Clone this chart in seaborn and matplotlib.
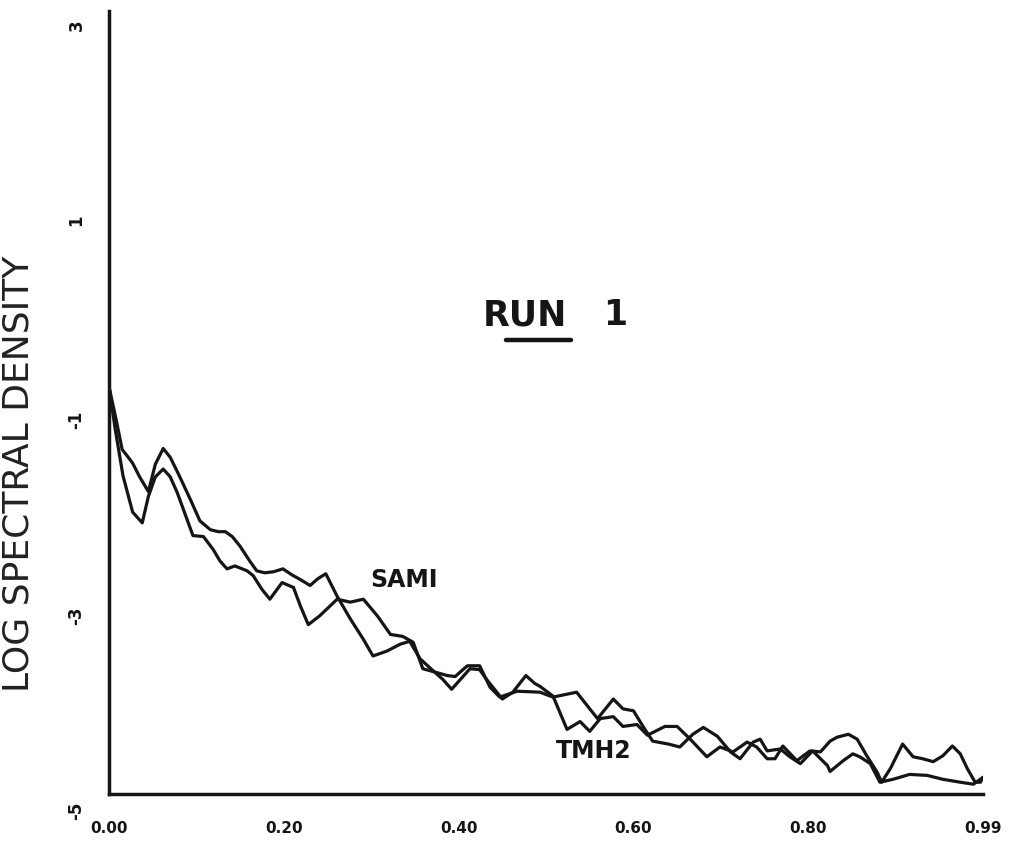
import numpy as np
import pandas as pd
import matplotlib
matplotlib.use("Agg")
import matplotlib.pyplot as plt
import matplotlib.transforms as mtransforms
import seaborn as sns

# Log spectral density curves (frequency as fraction of Nyquist)
tmh2_freq = [0.000, 0.008, 0.015, 0.022, 0.027, 0.035, 0.045, 0.053, 0.062, 0.070,
             0.081, 0.093, 0.104, 0.116, 0.125, 0.133, 0.141, 0.150, 0.161, 0.169,
             0.178, 0.188, 0.199, 0.209, 0.219, 0.230, 0.239, 0.248, 0.261, 0.276,
             0.291, 0.302, 0.318, 0.333, 0.344, 0.356, 0.367, 0.382, 0.392, 0.402,
             0.413, 0.424, 0.432, 0.450, 0.462, 0.477, 0.487, 0.493, 0.508, 0.524,
             0.539, 0.550, 0.562, 0.577, 0.588, 0.604, 0.616, 0.636, 0.650, 0.665,
             0.684, 0.699, 0.714, 0.730, 0.741, 0.753, 0.762, 0.771, 0.787, 0.802,
             0.814, 0.825, 0.833, 0.846, 0.856, 0.867, 0.879, 0.884, 0.894, 0.908,
             0.920, 0.931, 0.943, 0.954, 0.965, 0.974, 0.982, 0.991, 0.997, 1.000]
tmh2_lsd = [-0.84, -1.17, -1.48, -1.56, -1.62, -1.76, -1.91, -1.63, -1.47, -1.56,
            -1.76, -1.99, -2.21, -2.30, -2.32, -2.32, -2.37, -2.47, -2.62, -2.72,
            -2.74, -2.73, -2.70, -2.76, -2.81, -2.87, -2.80, -2.75, -2.98, -3.21,
            -3.42, -3.59, -3.54, -3.47, -3.44, -3.62, -3.71, -3.83, -3.93, -3.83,
            -3.72, -3.73, -3.83, -4.03, -3.96, -3.79, -3.87, -3.90, -4.00, -4.34,
            -4.26, -4.36, -4.23, -4.21, -4.31, -4.29, -4.40, -4.31, -4.31, -4.44,
            -4.62, -4.52, -4.57, -4.47, -4.52, -4.64, -4.64, -4.51, -4.66, -4.56,
            -4.57, -4.46, -4.42, -4.39, -4.44, -4.61, -4.78, -4.88, -4.74, -4.49,
            -4.62, -4.64, -4.67, -4.61, -4.51, -4.59, -4.74, -4.88, -4.88, -4.83]

sami_freq = [0.000, 0.007, 0.016, 0.027, 0.038, 0.045, 0.053, 0.062, 0.070, 0.078,
             0.087, 0.096, 0.108, 0.119, 0.127, 0.135, 0.144, 0.158, 0.165, 0.175,
             0.184, 0.198, 0.211, 0.219, 0.228, 0.241, 0.261, 0.276, 0.291, 0.307,
             0.322, 0.336, 0.348, 0.359, 0.371, 0.387, 0.396, 0.410, 0.424, 0.436,
             0.447, 0.467, 0.493, 0.508, 0.535, 0.550, 0.559, 0.577, 0.588, 0.600,
             0.611, 0.622, 0.640, 0.653, 0.668, 0.680, 0.696, 0.711, 0.722, 0.737,
             0.745, 0.753, 0.768, 0.779, 0.791, 0.805, 0.822, 0.825, 0.840, 0.851,
             0.859, 0.871, 0.882, 0.897, 0.916, 0.936, 0.954, 0.974, 0.989, 1.000]
sami_lsd = [-0.84, -1.27, -1.75, -2.12, -2.23, -1.96, -1.76, -1.68, -1.76, -1.92,
            -2.14, -2.36, -2.37, -2.50, -2.62, -2.70, -2.67, -2.72, -2.77, -2.91,
            -3.01, -2.84, -2.89, -3.08, -3.27, -3.18, -3.01, -3.04, -3.01, -3.18,
            -3.37, -3.39, -3.45, -3.72, -3.75, -3.79, -3.80, -3.69, -3.69, -3.91,
            -4.01, -3.95, -3.96, -4.01, -3.96, -4.13, -4.23, -4.03, -4.13, -4.15,
            -4.31, -4.46, -4.49, -4.52, -4.39, -4.32, -4.41, -4.57, -4.64, -4.47,
            -4.44, -4.56, -4.54, -4.62, -4.69, -4.56, -4.71, -4.77, -4.66, -4.59,
            -4.62, -4.69, -4.88, -4.85, -4.80, -4.81, -4.85, -4.88, -4.90, -4.83]

x_ticks = [0.0, 0.2, 0.4, 0.6, 0.8, 1.0]
x_tick_labels = ["0.00", "0.20", "0.40", "0.60", "0.80", "0.99"]
y_ticks = [3, 1, -1, -3, -5]
y_tick_labels = ["3", "1", "-1", "-3", "-5"]

df = pd.concat([
    pd.DataFrame({"freq": sami_freq, "lsd": sami_lsd, "series": "SAMI"}),
    pd.DataFrame({"freq": tmh2_freq, "lsd": tmh2_lsd, "series": "TMH2"}),
], ignore_index=True)

sns.set_theme(style="white")
plt.rcParams["font.family"] = ["DejaVu Sans"]

ink = "#151515"
fig = plt.figure(figsize=(10.21, 8.45), dpi=100)
ax = fig.add_axes([0.1068, 0.0592, 0.8560, 0.9266])

sns.lineplot(data=df, x="freq", y="lsd", hue="series", units="series",
             estimator=None, palette={"SAMI": ink, "TMH2": ink},
             linewidth=2.3, legend=False, ax=ax)
for line in ax.get_lines():
    line.set_solid_joinstyle("round")
    line.set_solid_capstyle("round")

ax.set_xlim(0, 1.0)
ax.set_ylim(-5, 3)
ax.set_xticks(x_ticks)
ax.set_xticklabels(x_tick_labels, fontsize=11, fontweight="bold", color=ink)
ax.set_yticks(y_ticks)
ax.set_yticklabels(y_tick_labels, rotation=90, va="top", fontsize=12,
                   fontweight="bold", color=ink)
ax.tick_params(axis="x", direction="out", length=14, width=2.3, pad=5, color=ink)
ax.tick_params(axis="y", direction="in", length=12, width=2.3, pad=17, color=ink)

shift = mtransforms.ScaledTranslation(0, -5 / 72, fig.dpi_scale_trans)
for lbl in ax.get_yticklabels():
    lbl.set_transform(lbl.get_transform() + shift)

sns.despine(ax=ax)
for side in ["left", "bottom"]:
    ax.spines[side].set_linewidth(2.5)
    ax.spines[side].set_color(ink)

ax.set_xlabel("")
ax.set_ylabel("LOG SPECTRAL DENSITY", fontsize=26, color="#222222")
ax.yaxis.set_label_coords(-0.084, 0.41)

# Curve labels
ax.text(0.338, -2.80, "SAMI", ha="center", va="center", fontsize=17,
        fontweight="bold", color=ink)
ax.text(0.555, -4.55, "TMH2", ha="center", va="center", fontsize=17,
        fontweight="bold", color=ink)

# Run title with underline beneath "RUN"
t_run = ax.text(0.428, -0.10, "RUN", ha="left", va="center", fontsize=25,
                fontweight="bold", color=ink)
ax.text(0.565, -0.10, "1", ha="left", va="center", fontsize=25,
        fontweight="bold", color=ink)

fig.canvas.draw()
bb = t_run.get_window_extent(fig.canvas.get_renderer())
inv = ax.transData.inverted()
(ux0, uy), (ux1, _) = inv.transform([(bb.x0 + 0.27 * bb.width, bb.y0 - 9),
                                     (bb.x1 + 4, bb.y0 - 9)])
ax.plot([ux0, ux1], [uy, uy], color=ink, linewidth=3.2, solid_capstyle="round")

fig.savefig("out.png", dpi=100, facecolor="white")
